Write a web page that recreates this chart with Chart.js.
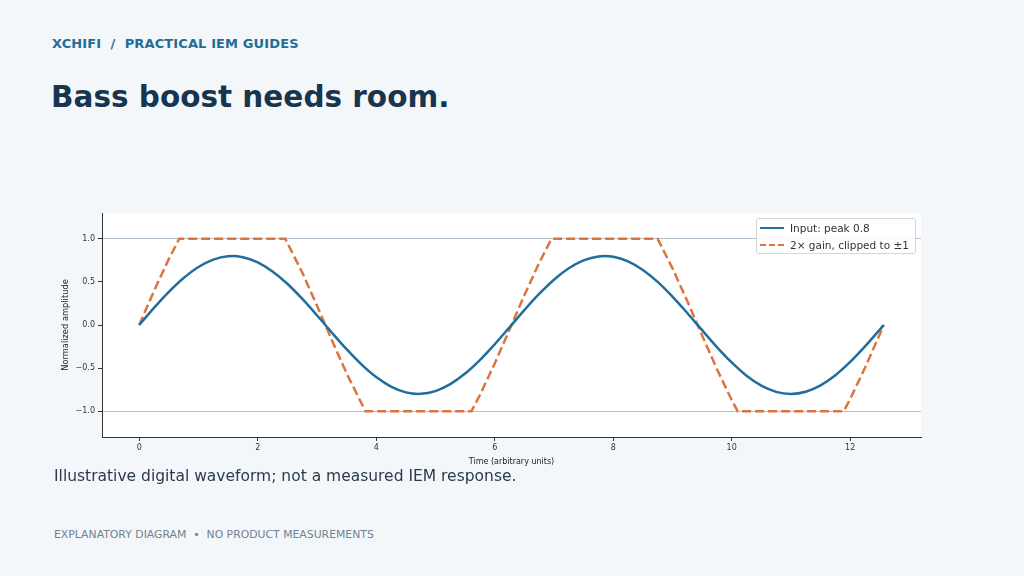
<!DOCTYPE html>
<html>
<head>
<meta charset="utf-8">
<script src="https://cdn.jsdelivr.net/npm/chart.js@4.4.1/dist/chart.umd.min.js"></script>
<style>
  html, body { margin:0; padding:0; }
  body { width:1024px; height:576px; background:#f3f7fa; position:relative; overflow:hidden; font-family:"DejaVu Sans", sans-serif; }
  .kicker { position:absolute; left:52px; top:36px; font-size:13px; font-weight:bold; color:#1f6e96; letter-spacing:0.12px; }
  .title { position:absolute; left:51px; top:80px; font-size:29.5px; font-weight:bold; color:#17354f; }
  .caption { position:absolute; left:54px; top:467px; font-size:15.5px; color:#2b3b4d; }
  .footer { position:absolute; left:54px; top:528px; font-size:10.85px; color:#6e8294; }
  .plotbg { position:absolute; left:102px; top:213px; width:819px; height:224px; background:#ffffff; }
  #wrap { position:absolute; left:0; top:200px; width:1024px; height:280px; }
  .legend { position:absolute; left:756px; top:218px; width:158px; padding:0; background:rgba(255,255,255,0.85); border:1px solid #d6d6d6; border-radius:2px; font-size:10.5px; color:#333; }
  .legend .item { display:flex; align-items:center; height:17px; }
  .legend .sw { width:24px; margin-left:3px; margin-right:6px; height:0; }
</style>
</head>
<body>
<div class="kicker">XCHIFI &nbsp;/&nbsp; PRACTICAL IEM GUIDES</div>
<div class="title">Bass boost needs room.</div>
<div class="plotbg"></div>
<div id="wrap"><canvas id="c" width="1024" height="280"></canvas></div>
<div class="legend" id="legend"></div>
<div class="caption">Illustrative digital waveform; not a measured IEM response.</div>
<div class="footer">EXPLANATORY DIAGRAM &nbsp;•&nbsp; NO PRODUCT MEASUREMENTS</div>
<script>
const inputTimes = [0,0.25,0.5,0.75,1.0,1.25,1.5,1.75,2.0,2.25,2.5,2.75,3.0,3.25,3.5,3.75,4.0,4.25,4.5,4.75,5.0,5.25,5.5,5.75,6.0,6.25,6.5,6.75,7.0,7.25,7.5,7.75,8.0,8.25,8.5,8.75,9.0,9.25,9.5,9.75,10.0,10.25,10.5,10.75,11.0,11.25,11.5,11.75,12.0,12.25,12.5,12.566];
const inputValues = [0,0.198,0.384,0.545,0.673,0.759,0.798,0.787,0.727,0.622,0.479,0.305,0.113,-0.087,-0.281,-0.457,-0.605,-0.716,-0.782,-0.799,-0.767,-0.687,-0.564,-0.407,-0.224,-0.027,0.172,0.360,0.526,0.658,0.750,0.796,0.792,0.738,0.639,0.500,0.330,0.139,-0.060,-0.256,-0.435,-0.589,-0.704,-0.776,-0.800,-0.774,-0.700,-0.583,-0.429,-0.249,-0.053,0];
const clippedTimes = [0,0.25,0.5,0.675,2.466,2.75,3.0,3.25,3.5,3.817,5.608,5.75,6.0,6.25,6.5,6.75,6.958,8.750,9.0,9.25,9.5,9.75,10.0,10.100,11.891,12.0,12.25,12.5,12.566];
const clippedValues = [0,0.396,0.767,1.0,1.0,0.611,0.226,-0.173,-0.561,-1.0,-1.0,-0.813,-0.447,-0.053,0.344,0.720,1.0,1.0,0.659,0.279,-0.120,-0.511,-0.870,-1.0,-1.0,-0.859,-0.497,-0.106,0];
const xTicks = [0,2,4,6,8,10,12];
const yTicks = [-1.0,-0.5,0.0,0.5,1.0];
const refLines = [-1.0, 1.0];
const seriesLabels = ["Input: peak 0.8", "2\u00d7 gain, clipped to \u00b11"];
const seriesColors = ["#1f6e9c", "#dd7440"];

const toPts = (xs, ys) => xs.map((x, i) => ({x: x, y: ys[i]}));

new Chart(document.getElementById('c'), {
  type: 'line',
  data: {
    datasets: [
      { label: seriesLabels[0], data: toPts(inputTimes, inputValues), borderColor: seriesColors[0], borderWidth: 2.5, pointRadius: 0, tension: 0.35, fill: false },
      { label: seriesLabels[1], data: toPts(clippedTimes, clippedValues), borderColor: seriesColors[1], borderWidth: 2.5, borderDash: [9, 4], pointRadius: 0, tension: 0, fill: false }
    ]
  },
  options: {
    responsive: false,
    animation: false,
    layout: { padding: { left: 61, right: 103, top: 13, bottom: 13 } },
    plugins: { legend: { display: false }, tooltip: { enabled: false } },
    scales: {
      x: {
        type: 'linear', min: -0.628, max: 13.195,
        afterBuildTicks: s => { s.ticks = xTicks.map(v => ({value: v})); },
        afterFit: s => { s.height = 30; },
        border: { color: '#333333', width: 1 },
        grid: { drawOnChartArea: false, tickLength: 4, tickColor: '#333333' },
        ticks: { color: '#333333', font: { family: 'DejaVu Sans', size: 8 }, padding: 2, maxRotation: 0, callback: v => String(v) },
        title: { display: true, text: 'Time (arbitrary units)', color: '#222222', font: { family: 'DejaVu Sans', size: 8 }, padding: { top: 2, bottom: 0 } }
      },
      y: {
        type: 'linear', min: -1.3, max: 1.3,
        afterBuildTicks: s => { s.ticks = yTicks.map(v => ({value: v})); },
        afterFit: s => { s.width = 41; },
        border: { color: '#333333', width: 1 },
        grid: { tickLength: 4, tickColor: '#333333', lineWidth: 1, color: c => refLines.includes(c.tick ? c.tick.value : NaN) ? '#b3bfcc' : 'rgba(0,0,0,0)' },
        ticks: { color: '#333333', font: { family: 'DejaVu Sans', size: 8 }, padding: 3, callback: v => v.toFixed(1).replace('-', '\u2212') },
        title: { display: true, text: 'Normalized amplitude', color: '#222222', font: { family: 'DejaVu Sans', size: 8.3 }, padding: { top: 0, bottom: 4 } }
      }
    }
  }
});

const lg = document.getElementById('legend');
seriesLabels.forEach((lab, i) => {
  const it = document.createElement('div'); it.className = 'item';
  const sw = document.createElement('div'); sw.className = 'sw';
  sw.style.borderTop = '2.5px ' + (i === 1 ? 'dashed ' : 'solid ') + seriesColors[i];
  const tx = document.createElement('span'); tx.textContent = lab;
  it.appendChild(sw); it.appendChild(tx); lg.appendChild(it);
});
</script>
</body>
</html>
